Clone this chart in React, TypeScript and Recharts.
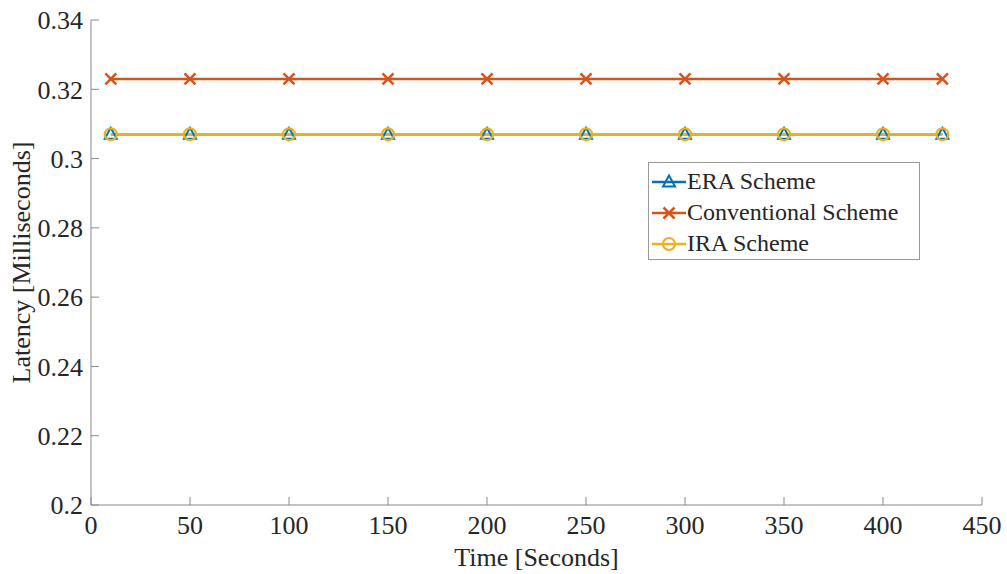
import React from 'react';
import { LineChart, Line, XAxis, YAxis, Legend } from 'recharts';

const times = [10, 50, 100, 150, 200, 250, 300, 350, 400, 430];
const eraLatency = [0.307, 0.307, 0.307, 0.307, 0.307, 0.307, 0.307, 0.307, 0.307, 0.307];
const conventionalLatency = [0.323, 0.323, 0.323, 0.323, 0.323, 0.323, 0.323, 0.323, 0.323, 0.323];
const iraLatency = [0.307, 0.307, 0.307, 0.307, 0.307, 0.307, 0.307, 0.307, 0.307, 0.307];

const xTicks = [0, 50, 100, 150, 200, 250, 300, 350, 400, 450];
const yTicks = [0.2, 0.22, 0.24, 0.26, 0.28, 0.3, 0.32, 0.34];

const BLUE = '#0072BD';
const ORANGE = '#D95319';
const YELLOW = '#EDB120';
const AXIS = '#8a8a8a';
const TEXT = '#262626';
const FONT = '"Liberation Serif", "Times New Roman", serif';

const data = times.map((t, i) => ({
  time: t,
  era: eraLatency[i],
  conventional: conventionalLatency[i],
  ira: iraLatency[i],
}));

const Triangle = ({ cx, cy, color }: any) => (
  <path
    d={`M${cx},${cy - 6.5} L${cx + 6},${cy + 4.5} L${cx - 6},${cy + 4.5} Z`}
    fill="none"
    stroke={color}
    strokeWidth={2}
  />
);

const Cross = ({ cx, cy, color }: any) => (
  <path
    d={`M${cx - 5.5},${cy - 5.5} L${cx + 5.5},${cy + 5.5} M${cx - 5.5},${cy + 5.5} L${cx + 5.5},${cy - 5.5}`}
    stroke={color}
    strokeWidth={2.5}
  />
);

const Ring = ({ cx, cy, color }: any) => (
  <circle cx={cx} cy={cy} r={6} fill="none" stroke={color} strokeWidth={2.2} />
);

const legendItems = [
  { name: 'ERA Scheme', color: BLUE, Marker: Triangle },
  { name: 'Conventional Scheme', color: ORANGE, Marker: Cross },
  { name: 'IRA Scheme', color: YELLOW, Marker: Ring },
];

const LegendBox = () => (
  <div
    style={{
      border: '1px solid #9a9a9a',
      background: '#fff',
      width: 272,
      height: 98,
      boxSizing: 'border-box',
      paddingTop: 3,
    }}
  >
    {legendItems.map(({ name, color, Marker }) => (
      <div key={name} style={{ display: 'flex', alignItems: 'center', height: 31 }}>
        <svg width={36} height={20} style={{ marginLeft: 2 }}>
          <line x1={1} y1={10} x2={35} y2={10} stroke={color} strokeWidth={2.5} />
          <Marker cx={18} cy={10} color={color} />
        </svg>
        <span style={{ fontFamily: FONT, fontSize: 24, color: TEXT, lineHeight: '31px' }}>{name}</span>
      </div>
    ))}
  </div>
);

const fmt = (v: number) => String(parseFloat(v.toFixed(2)));

export default function App() {
  const tickStyle = { fontFamily: FONT, fontSize: 26, fill: TEXT };
  return (
    <div style={{ position: 'absolute', left: 0, top: 0, background: '#fff' }}>
      <LineChart width={1007} height={574} data={data} margin={{ top: 20, right: 25, left: 0, bottom: 0 }}>
        <XAxis
          xAxisId="b"
          dataKey="time"
          type="number"
          domain={[0, 450]}
          ticks={xTicks}
          height={69}
          tickSize={-8}
          tickMargin={19}
          stroke={AXIS}
          tick={tickStyle}
          label={{
            content: ({ viewBox }: any) => (
              <text
                x={viewBox.x + viewBox.width / 2}
                y={viewBox.y + 61}
                textAnchor="middle"
                fontFamily={FONT}
                fontSize={26}
                fill={TEXT}
              >
                Time [Seconds]
              </text>
            ),
          }}
        />
        <XAxis
          xAxisId="t"
          orientation="top"
          dataKey="time"
          type="number"
          domain={[0, 450]}
          ticks={xTicks}
          height={0}
          tickSize={-8}
          tickFormatter={() => ''}
          stroke={AXIS}
        />
        <YAxis
          yAxisId="l"
          domain={[0.2, 0.34]}
          ticks={yTicks}
          width={91}
          tickSize={-8}
          tickMargin={16}
          tickFormatter={fmt}
          stroke={AXIS}
          tick={tickStyle}
          label={{
            content: ({ viewBox }: any) => {
              const cx = 21;
              const cy = viewBox.y + viewBox.height / 2;
              return (
                <text
                  x={cx}
                  y={cy}
                  transform={`rotate(-90 ${cx} ${cy})`}
                  textAnchor="middle"
                  dominantBaseline="central"
                  fontFamily={FONT}
                  fontSize={26}
                  fill={TEXT}
                >
                  Latency [Milliseconds]
                </text>
              );
            },
          }}
        />
        <YAxis
          yAxisId="r"
          orientation="right"
          domain={[0.2, 0.34]}
          ticks={yTicks}
          width={0}
          tickSize={-8}
          tickFormatter={() => ''}
          stroke={AXIS}
        />
        <Legend
          layout="vertical"
          align="center"
          verticalAlign="middle"
          wrapperStyle={{ position: 'absolute', left: 648, top: 162, width: 272 }}
          content={() => <LegendBox />}
        />
        <Line
          xAxisId="b"
          yAxisId="l"
          dataKey="era"
          name="ERA Scheme"
          stroke={BLUE}
          strokeWidth={2.5}
          dot={(p: any) => <Triangle key={`e${p.index}`} cx={p.cx} cy={p.cy} color={BLUE} />}
          isAnimationActive={false}
        />
        <Line
          xAxisId="b"
          yAxisId="l"
          dataKey="conventional"
          name="Conventional Scheme"
          stroke={ORANGE}
          strokeWidth={2.5}
          dot={(p: any) => <Cross key={`c${p.index}`} cx={p.cx} cy={p.cy} color={ORANGE} />}
          isAnimationActive={false}
        />
        <Line
          xAxisId="b"
          yAxisId="l"
          dataKey="ira"
          name="IRA Scheme"
          stroke={YELLOW}
          strokeWidth={2.5}
          dot={(p: any) => <Ring key={`i${p.index}`} cx={p.cx} cy={p.cy} color={YELLOW} />}
          isAnimationActive={false}
        />
      </LineChart>
    </div>
  );
}
